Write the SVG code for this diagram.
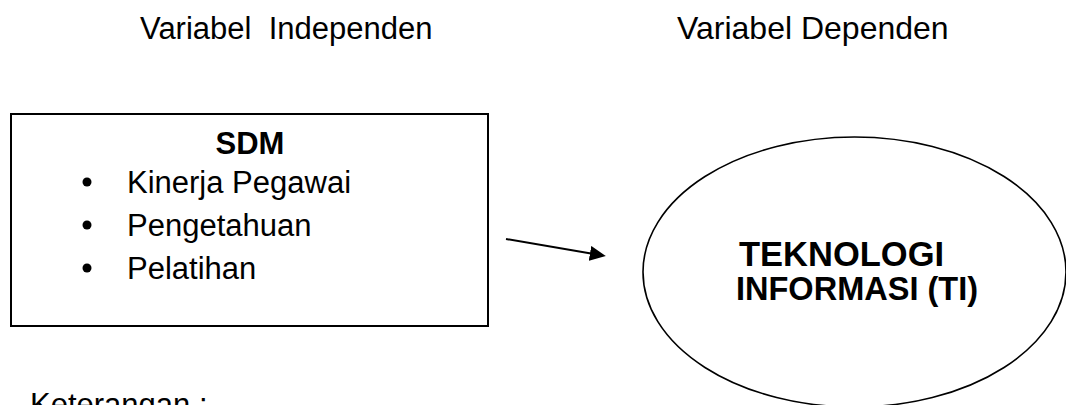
<svg xmlns="http://www.w3.org/2000/svg" width="1066" height="405" viewBox="0 0 1066 405">
<style>
  text { font-family: "Liberation Sans", Arial, sans-serif; fill: #000; }
  .lbl { font-size: 31px; }
  .bold { font-size: 31px; font-weight: bold; }
  .big { font-size: 33px; font-weight: bold; }
  .shape { fill: #fff; stroke: #000; }
  .conn { stroke: #000; stroke-width: 2; fill: none; }
</style>
<defs>
  <marker id="arrow" viewBox="0 0 16 15" refX="1" refY="7.5" markerWidth="16" markerHeight="15" markerUnits="userSpaceOnUse" orient="auto">
    <path d="M0,0 L16,7.5 L0,15 z" fill="#000"/>
  </marker>
</defs>
<rect width="1066" height="405" fill="#fff"/>
<g id="headers">
  <text class="lbl" x="140" y="39" xml:space="preserve">Variabel  Independen</text>
  <text class="lbl" x="677" y="39" style="font-size:32px">Variabel Dependen</text>
</g>
<g id="node-sdm">
  <rect class="shape" x="11" y="114" width="477" height="212" stroke-width="2"/>
  <text class="bold" x="250" y="154" text-anchor="middle">SDM</text>
  <circle cx="87" cy="182" r="4.5" fill="#000"/>
  <text class="lbl" x="127" y="193">Kinerja Pegawai</text>
  <circle cx="87" cy="225" r="4.5" fill="#000"/>
  <text class="lbl" x="127" y="236">Pengetahuan</text>
  <circle cx="87" cy="268" r="4.5" fill="#000"/>
  <text class="lbl" x="127" y="279">Pelatihan</text>
</g>
<g id="node-ti">
  <ellipse class="shape" cx="854.5" cy="272" rx="211.5" ry="135" stroke-width="1.6"/>
  <text class="big" x="739" y="266" style="font-size:34.5px">TEKNOLOGI</text>
  <text class="big" x="736" y="300" textLength="242" lengthAdjust="spacingAndGlyphs">INFORMASI (TI)</text>
</g>
<g id="connectors">
  <line class="conn" x1="506" y1="239" x2="591" y2="253.5" marker-end="url(#arrow)"/>
</g>
<g id="legend">
  <text class="lbl" x="30" y="415">Keterangan :</text>
</g>
</svg>
